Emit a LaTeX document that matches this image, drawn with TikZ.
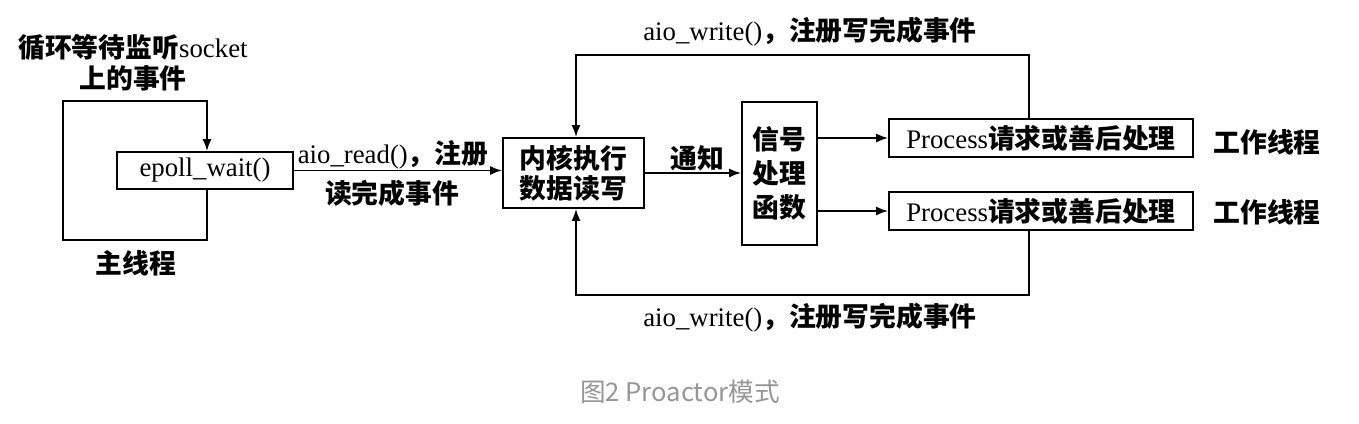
\documentclass[tikz,border=0pt]{standalone}
\usepackage{fontspec}
\setmainfont{Liberation Serif}
\newfontfamily\cjk{Noto Sans CJK SC}
\newfontfamily\capfont{Noto Sans CJK SC}
\usetikzlibrary{arrows.meta}
\definecolor{capgray}{RGB}{150,150,150}
\newcommand{\zh}[1]{{\cjk\bfseries #1}}
\begin{document}
\begin{tikzpicture}[x=0.5pt,y=-0.5pt,
  every node/.style={font=\fontsize{13.4}{16}\selectfont, inner sep=0pt},
  box/.style={draw, line width=0.9pt, align=center},
  arr/.style={-{Latex[length=6pt,width=4.5pt]}, line width=0.9pt},
  ln/.style={line width=0.9pt},
  lbl/.style={align=center}]
\fill[white] (0,0) rectangle (1359,423);
\useasboundingbox (0,0) rectangle (1359,423);

% nodes
\node[box, minimum width=88pt, minimum height=18.5pt] (epoll) at (205,170.5) {epoll\_wait()};
\node[box, minimum width=70.5pt, minimum height=35pt, font=\fontsize{13.4}{15}\selectfont] (kernel) at (573.5,173) {\zh{内核执行}\\\zh{数据读写}};
\node[box, minimum width=37.5pt, minimum height=71.5pt, font=\fontsize{13.4}{17}\selectfont] (signal) at (779.5,173.5) {\zh{信号}\\\zh{处理}\\\zh{函数}};
\node[box, minimum width=152pt, minimum height=19pt] (proc1) at (1041,138) {Process\zh{请求或善后处理}};
\node[box, minimum width=152pt, minimum height=19pt] (proc2) at (1041,211) {Process\zh{请求或善后处理}};

\node[lbl] (work1) at (1267,142) {\zh{工作线程}};
\node[lbl] (work2) at (1267,212) {\zh{工作线程}};
\node[lbl] (loopT1) at (133,47) {\zh{循环等待监听}socket};
\node[lbl] (loopT2) at (133,78) {\zh{上的事件}};
\node[lbl] (mainT) at (136,263) {\zh{主线程}};
\node[lbl] (readT1) at (393,155) {aio\_read()\zh{，注册}};
\node[lbl] (readT2) at (392,193) {\zh{读完成事件}};
\node[lbl] (notifyT) at (697,158) {\zh{通知}};
\node[lbl] (writeT) at (810,32) {aio\_write()\zh{，注册写完成事件}};
\node[lbl] (writeB) at (810,318) {aio\_write()\zh{，注册写完成事件}};
\node[font=\capfont\fontsize{12.8}{15}\selectfont, text=capgray] (cap) at (680,392) {图2 Proactor模式};

% coordinates
\coordinate (lx) at (207,0);
\coordinate (lbot) at (63,240);
\coordinate (ltop) at (63,101);
\coordinate (kx) at (576,0);
\coordinate (px) at (1029,0);
\coordinate (ttop) at (576,55);
\coordinate (tbot) at (576,295);

% main thread loop
\draw[ln] (epoll.south -| lx) |- (lbot) -- (ltop) -| (lx |- 0,120);
\draw[arr] (lx |- ltop) -- (epoll.north -| lx);

% connectors
\draw[arr] (epoll.east) -- (epoll.east -| kernel.west);
\draw[arr] (kernel.east |- 0,173) -- (signal.west |- 0,173);
\draw[arr] (signal.east |- proc1.west) -- (proc1.west);
\draw[arr] (signal.east |- proc2.west) -- (proc2.west);

% write loops
\draw[arr] (proc1.north -| px) |- (ttop) -- (kernel.north -| kx);
\draw[arr] (proc2.south -| px) |- (tbot) -- (kernel.south -| kx);
\end{tikzpicture}
\end{document}
